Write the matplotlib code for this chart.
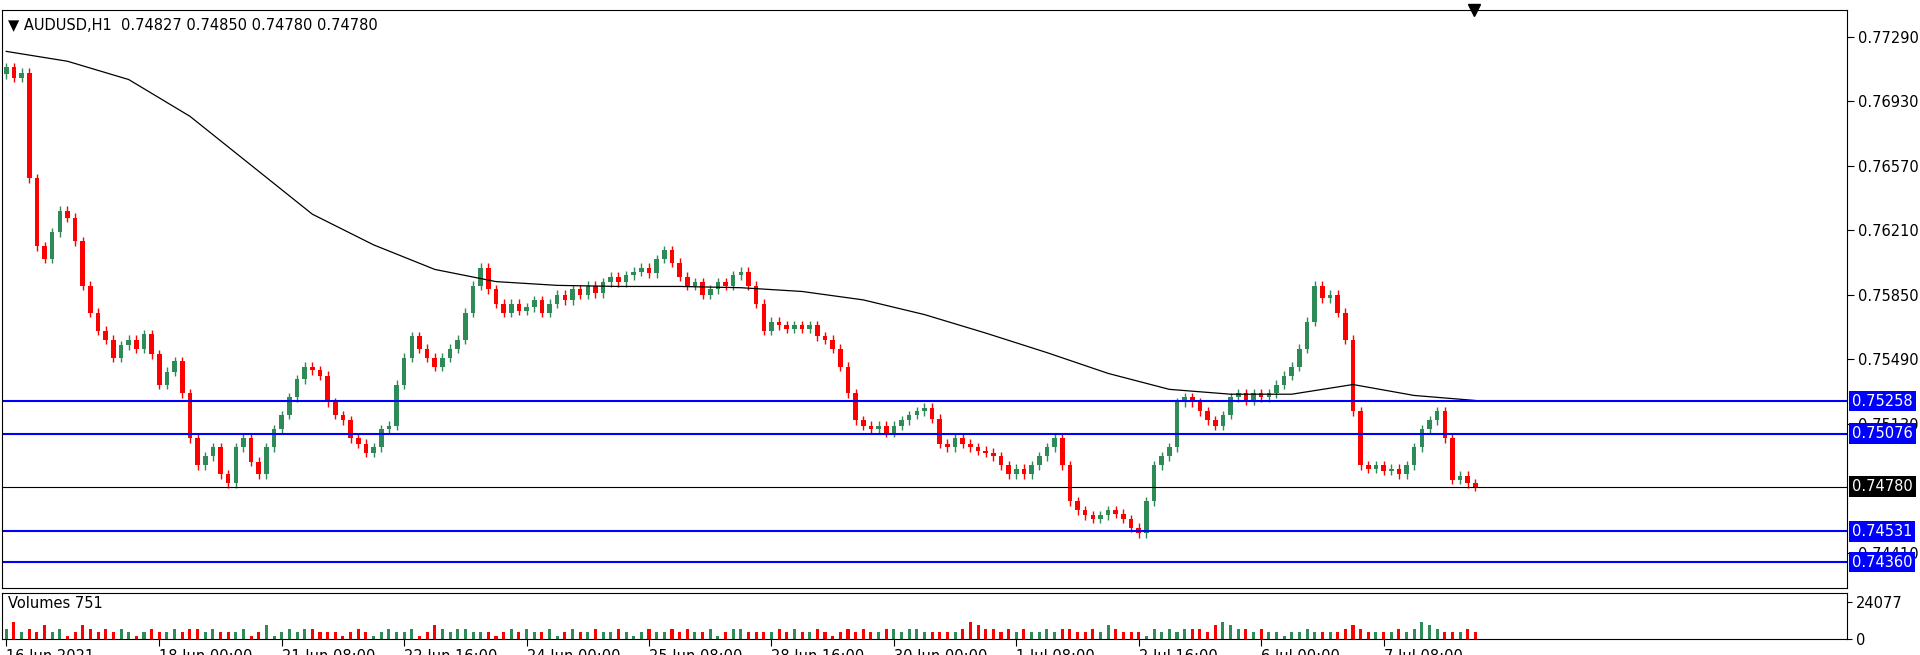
import matplotlib.pyplot as plt
import numpy as np

# 2-hour-ish candles, closes
closes = [0.7712, 0.7706, 0.7709, 0.7650, 0.7612, 0.7605, 0.7620, 0.7632, 0.7628, 0.7615,
          0.7590, 0.7575, 0.7565, 0.7560, 0.7550, 0.7557, 0.7560, 0.7555, 0.7563, 0.7552,
          0.7535, 0.7542, 0.7548, 0.7530, 0.7505, 0.7490, 0.7495, 0.7500, 0.7485, 0.7480,
          0.7500, 0.7505, 0.7492, 0.7485, 0.7500, 0.7510, 0.7518, 0.7528, 0.7538, 0.7545,
          0.7543, 0.7540, 0.7525, 0.7518, 0.7515, 0.7505, 0.7502, 0.7497, 0.7500, 0.7510,
          0.7512, 0.7535, 0.7550, 0.7562, 0.7555, 0.7550, 0.7545, 0.7550, 0.7555, 0.7560,
          0.7575, 0.7590, 0.7600, 0.7588, 0.7580, 0.7575, 0.7580, 0.7576, 0.7578, 0.7582,
          0.7575, 0.7580, 0.7585, 0.7582, 0.7588, 0.7585, 0.7590, 0.7586, 0.7592, 0.7595,
          0.7592, 0.7596, 0.7598, 0.7600, 0.7597, 0.7605, 0.7610, 0.7603, 0.7595, 0.7590,
          0.7592, 0.7585, 0.7588, 0.7592, 0.7590, 0.7596, 0.7598, 0.7590, 0.7580, 0.7565,
          0.7570, 0.7568, 0.7566, 0.7568, 0.7566, 0.7568, 0.7562, 0.7560, 0.7555, 0.7545,
          0.7530, 0.7515, 0.7512, 0.7510, 0.7512, 0.7508, 0.7512, 0.7515, 0.7518, 0.7520,
          0.7522, 0.7516, 0.7502, 0.7500, 0.7505, 0.7502, 0.7500, 0.7498, 0.7497, 0.7495,
          0.7490, 0.7485, 0.7488, 0.7485, 0.7490, 0.7495, 0.7500, 0.7505, 0.7490, 0.7470,
          0.7465, 0.7462, 0.7460, 0.7462, 0.7465, 0.7463, 0.7460, 0.7455, 0.7452, 0.7470,
          0.7490, 0.7495, 0.7500, 0.7525, 0.7528, 0.7525, 0.7520, 0.7515, 0.7512, 0.7518,
          0.7528, 0.7530, 0.7526, 0.7530, 0.7528, 0.7530, 0.7535, 0.7540, 0.7545, 0.7555,
          0.7570, 0.7590, 0.7583, 0.7585, 0.7575, 0.7560, 0.7520, 0.7490, 0.7488, 0.7490,
          0.7487, 0.7488, 0.7485, 0.7490, 0.7500, 0.7510, 0.7515, 0.7520, 0.7505, 0.7482,
          0.7484, 0.7480, 0.7478]
first_open = 0.7708

# volume heights (relative), one per candle
vol_digits = ("3523242312432323212322323323222312412323322212321232231243233222"
              "1232322312322322321232232322312332222323223212323223323322222354"
              "33232322323322324322213232333245433232212232222343222232354322"
              "232")
vol_scale = 2200

ma_idx = [0, 8, 16, 24, 32, 40, 48, 56, 64, 72, 80, 88, 96, 104, 112, 120, 128, 136, 144,
          152, 160, 168, 176, 184, 192]
ma_vals = [0.77208, 0.77153, 0.77051, 0.76846, 0.76573, 0.76300, 0.76129, 0.75992, 0.75924,
           0.75903, 0.75897, 0.75897, 0.75890, 0.75869, 0.75822, 0.75740, 0.75637, 0.75528,
           0.75412, 0.75323, 0.75296, 0.75296, 0.75350, 0.75289, 0.75261]

blue_levels = [0.75258, 0.75076, 0.74531, 0.74360]
last_price = 0.74780
price_ticks = [0.77290, 0.76930, 0.76570, 0.76210, 0.75850, 0.75490, 0.75130, 0.74410]
time_pos = [0, 20, 36, 52, 68, 84, 100, 116, 132, 148, 164, 180]
time_labels = ["16 Jun 2021", "18 Jun 00:00", "21 Jun 08:00", "22 Jun 16:00", "24 Jun 00:00",
               "25 Jun 08:00", "28 Jun 16:00", "30 Jun 00:00", "1 Jul 08:00", "2 Jul 16:00",
               "6 Jul 00:00", "7 Jul 08:00"]

# layout measured on a 1568x535 view of the reference
W, H = 1568, 535
fig = plt.figure(figsize=(19.2, 6.55), dpi=100)
ax = fig.add_axes([2 / W, 1 - 480 / H, 1506 / W, 472 / H])
axv = fig.add_axes([2 / W, 1 - 522 / H, 1506 / W, 38 / H], sharex=ax)
fs = 10.5

up, dn = "#2e8b57", "#ff0000"
c = np.array(closes)
o = np.concatenate([[first_open], c[:-1]])
hi = np.maximum(o, c) + 0.00025
lo = np.minimum(o, c) - 0.00025
x = np.arange(len(c))
for i in x:
    col = up if c[i] >= o[i] else dn
    ax.vlines(i, lo[i], hi[i], color=col, lw=1)
    ax.bar(i, max(abs(c[i] - o[i]), 0.00003), bottom=min(o[i], c[i]), width=0.6, color=col, lw=0)

ax.plot(ma_idx, ma_vals, color="black", lw=0.9)
for lv in blue_levels:
    ax.axhline(lv, color="#0000ff", lw=1.5)
ax.axhline(last_price, color="black", lw=0.8)

ax.set_xlim(-0.5, 240.5)
ax.set_ylim(0.74217, 0.77440)
ax.yaxis.tick_right()
ax.set_yticks(price_ticks)
ax.set_yticklabels([f"{p:.5f}" for p in price_ticks], fontsize=fs)
ax.tick_params(axis="x", bottom=False, labelbottom=False)
ax.tick_params(axis="y", length=5)
for lv in blue_levels:
    ax.text(1.003, lv, f"{lv:.5f}", transform=ax.get_yaxis_transform(), fontsize=fs,
            color="white", va="center", ha="left", zorder=10,
            bbox=dict(boxstyle="square,pad=0.2", fc="#0000ff", ec="none"))
ax.text(1.003, last_price, f"{last_price:.5f}", transform=ax.get_yaxis_transform(), fontsize=fs,
        color="white", va="center", ha="left", zorder=10,
        bbox=dict(boxstyle="square,pad=0.2", fc="black", ec="none"))
ax.text(0.003, 0.985, "\u25bc AUDUSD,H1  0.74827 0.74850 0.74780 0.74780",
        transform=ax.transAxes, fontsize=fs, va="top")
ax.plot([0.798], [1.0], marker="v", color="black", ms=8, transform=ax.transAxes, clip_on=False)

vols = [int(d) * vol_scale for d in vol_digits[:len(c)]]
vcols = [up if c[i] >= o[i] else dn for i in x]
axv.bar(x, vols, width=0.4, color=vcols)
axv.set_ylim(0, 30000)
axv.yaxis.tick_right()
axv.set_yticks([0, 24077])
axv.set_yticklabels(["0", "24077"], fontsize=fs)
axv.set_xticks(time_pos)
axv.set_xticklabels(time_labels, fontsize=fs, ha="left")
axv.tick_params(axis="x", length=5, pad=2)
axv.text(0.003, 0.93, "Volumes 751", transform=axv.transAxes, fontsize=fs, va="top")

fig.savefig("out.png", dpi=100)
